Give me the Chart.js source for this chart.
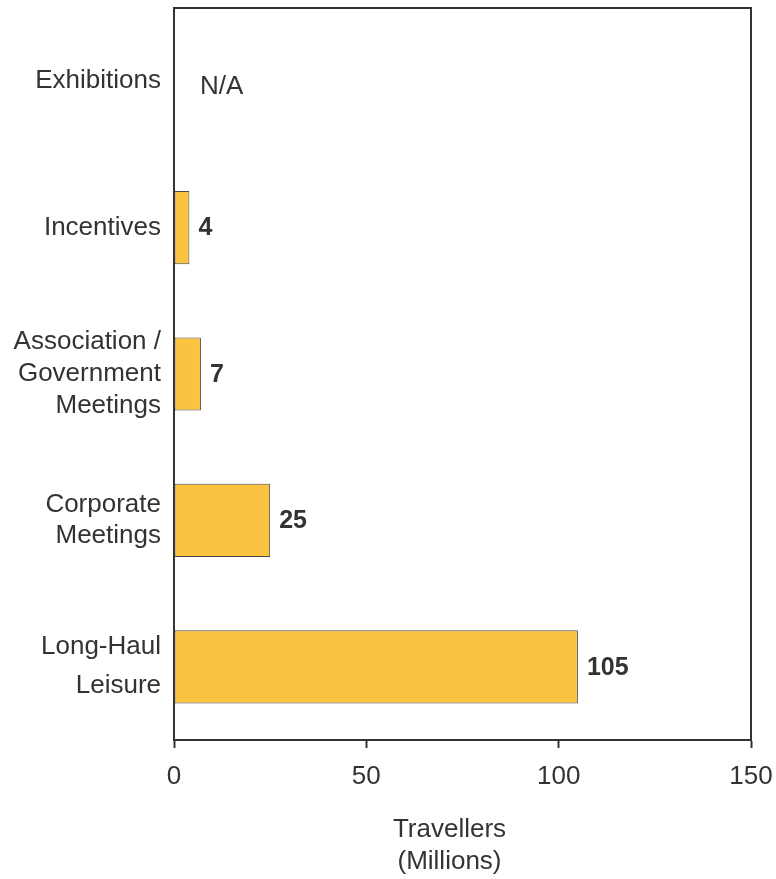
<!DOCTYPE html>
<html>
<head>
<meta charset="utf-8">
<title>Travellers by segment</title>
<script src="https://cdn.jsdelivr.net/npm/chart.js@4.4.1/dist/chart.umd.min.js"></script>
<style>
  html, body { margin: 0; padding: 0; background: #fff; }
  #wrap { width: 776px; height: 879px; }
</style>
</head>
<body>
<div id="wrap"><canvas id="segmentChart"></canvas></div>
<script>
// chart data
const categories = [
  ["Exhibitions"],
  ["Incentives"],
  ["Association /", "Government", "Meetings"],
  ["Corporate", "Meetings"],
  ["Long-Haul", "Leisure"]
];
const travellers = [null, 4, 7, 25, 105];
const valueLabels = ["N/A", "4", "7", "25", "105"];
const xTicks = [0, 50, 100, 150];
const axisTitle = ["Travellers", "(Millions)"];

const FONT = "'Liberation Sans', Arial, Helvetica, sans-serif";
const INK = "#333333";

// value labels to the right of each bar, "N/A" where there is no value
const valueLabelPlugin = {
  id: "valueLabels",
  afterDatasetsDraw(chart) {
    const ctx = chart.ctx;
    const xScale = chart.scales.x;
    const yScale = chart.scales.y;
    const meta = chart.getDatasetMeta(0);
    ctx.save();
    ctx.fillStyle = INK;
    ctx.textAlign = "left";
    ctx.textBaseline = "middle";
    travellers.forEach((v, i) => {
      const y = yScale.getPixelForValue(i);
      if (v === null) {
        ctx.font = "26px " + FONT;
        ctx.fillText(valueLabels[i], xScale.getPixelForValue(0) + 26, y + 6);
      } else {
        const bar = meta.data[i];
        ctx.font = "bold 25px " + FONT;
        ctx.fillText(valueLabels[i], bar.x + 9, y + 1);
      }
    });
    ctx.restore();
  }
};

// close the box (top and right edge) and put the axis title under the ticks
const framePlugin = {
  id: "frame",
  afterDraw(chart) {
    const a = chart.chartArea;
    const ctx = chart.ctx;
    ctx.save();
    ctx.strokeStyle = INK;
    ctx.lineWidth = 2;
    ctx.beginPath();
    ctx.moveTo(a.left, a.top);
    ctx.lineTo(a.right, a.top);
    ctx.lineTo(a.right, a.bottom);
    ctx.stroke();

    // axis title, sits a little left of the plot centre in the original
    ctx.fillStyle = INK;
    ctx.font = "26px " + FONT;
    ctx.textAlign = "center";
    ctx.textBaseline = "middle";
    const cx = (a.left + a.right) / 2 - 13;
    axisTitle.forEach((line, i) => {
      ctx.fillText(line, cx, a.bottom + 90 + i * 32);
    });
    ctx.restore();
  }
};

const ctx = document.getElementById("segmentChart").getContext("2d");
const segmentChart = new Chart(ctx, {
  type: "bar",
  data: {
    labels: categories,
    datasets: [
      {
        label: "Travellers (Millions)",
        data: travellers,
        backgroundColor: "#FBC33F",
        borderColor: "#4a4a4a",
        borderWidth: 1,
        borderSkipped: false,
        categoryPercentage: 1,
        barPercentage: 0.5
      }
    ]
  },
  options: {
    indexAxis: "y",
    responsive: true,
    maintainAspectRatio: false,
    animation: false,
    layout: {
      padding: { top: 8, right: 25, left: 0, bottom: 0 }
    },
    plugins: {
      legend: { display: false },
      tooltip: { enabled: false }
    },
    scales: {
      x: {
        min: 0,
        max: 150,
        afterBuildTicks: (scale) => {
          scale.ticks = xTicks.map((v) => ({ value: v }));
        },
        afterFit: (scale) => {
          scale.height = 139;
          scale.paddingLeft = 0;
          scale.paddingRight = 0;
        },
        grid: {
          drawOnChartArea: false,
          drawTicks: true,
          tickLength: 8,
          tickWidth: 2,
          tickColor: INK
        },
        border: { display: true, color: INK, width: 2 },
        ticks: {
          color: INK,
          padding: 13,
          maxRotation: 0,
          font: { family: FONT, size: 26, lineHeight: 1.2 }
        },
        title: { display: false }
      },
      y: {
        afterFit: (scale) => {
          scale.width = 174;
          scale.paddingTop = 0;
          scale.paddingBottom = 0;
        },
        grid: {
          display: true,
          drawOnChartArea: false,
          drawTicks: false
        },
        border: { display: true, color: INK, width: 2 },
        ticks: {
          color: INK,
          padding: 13,
          font: (c) => ({
            family: FONT,
            size: 26,
            lineHeight: c.index === 4 ? 1.5 : 1.22
          })
        }
      }
    }
  },
  plugins: [valueLabelPlugin, framePlugin]
});
</script>
</body>
</html>
